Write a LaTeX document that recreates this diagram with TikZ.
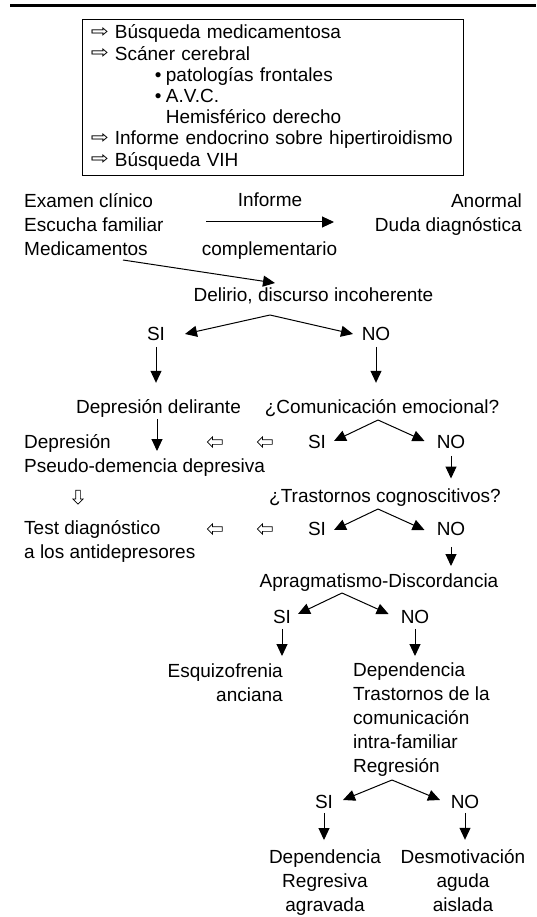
\documentclass[tikz,border=0pt]{standalone}
\usepackage{fontspec}
\setmainfont{Liberation Sans}
\newfontfamily\symfont{DejaVu Sans}
\usetikzlibrary{arrows.meta,shapes.arrows}

\newcommand{\rarr}{\raisebox{1.5pt}{\resizebox{18pt}{10pt}{\symfont ⇨}}}
\newcommand{\bul}{\makebox[11pt][l]{\fontsize{19}{19}\selectfont •}}

\tikzset{
  arr/.style={-{Triangle[length=12pt,width=11pt]}, line width=1pt},
  stem/.style={arr, shorten <=5pt, shorten >=8pt},
  txt/.style={inner sep=0pt, font=\fontsize{19}{24}\selectfont},
  hollow/.style={single arrow, draw, line width=0.7pt, inner sep=2pt,
    minimum height=15pt, single arrow head extend=2.8pt},
  hollowl/.style={hollow, shape border rotate=180},
  hollowd/.style={hollow, shape border rotate=270, minimum height=14pt},
  boxed/.style={draw, line width=0.8pt, anchor=north west, inner xsep=8.5pt,
    inner ysep=5.5pt, text width=364pt, align=left,
    font=\fontsize{19}{21.2}\selectfont}
}

\begin{document}
\begin{tikzpicture}[x=1pt,y=-1pt]
\useasboundingbox (0,0) rectangle (536,917);
%%rule
\draw[line width=3.2pt] (10,5.5) -- (536,5.5);
%%box
\node[boxed] (pruebas) at (82,19) {\makebox[24pt][l]{\rarr}Búsqueda medicamentosa\\
  \makebox[24pt][l]{\rarr}Scáner cerebral\\
  \hspace*{64pt}\bul patologías frontales\\
  \hspace*{64pt}\bul A.V.C.\\
  \hspace*{75pt}Hemisférico derecho\\
  \makebox[24pt][l]{\rarr}Informe endocrino sobre hipertiroidismo\\
  \makebox[24pt][l]{\rarr}Búsqueda VIH};
%%Labels (base = last line)
\node[txt, anchor=base west, align=left] (examen) at (24,255) {Examen clínico\\Escucha familiar\\Medicamentos};
\node[txt, anchor=base] (inf) at (270,207) {Informe};
\node[txt, anchor=base] (compl) at (269.5,255) {complementario};
\node[txt, anchor=base east, align=right] (anormal) at (522,231) {Anormal\\Duda diagnóstica};
\node[txt, anchor=base] (delirio) at (313.5,301) {Delirio, discurso incoherente};
\node[txt] (si1) at (156,334) {SI};
\node[txt] (no1) at (376,334) {NO};
\node[txt, anchor=base] (deplir) at (158.5,413) {Depresión delirante};
\node[txt, anchor=base] (comun) at (382,413) {¿Comunicación emocional?};
\node[txt] (si2) at (317,442) {SI};
\node[txt] (no2) at (451,442) {NO};
\node[txt, anchor=base west, align=left] (depres) at (24,472) {Depresión\\Pseudo-demencia depresiva};
\node[hollowl] (la1) at (216,442) {};
\node[hollowl] (la2) at (266,442) {};
\node[txt, anchor=base] (trast) at (385,502) {¿Trastornos cognoscitivos?};
\node[hollowd] (da1) at (78,496) {};
\node[txt] (si3) at (317,529) {SI};
\node[txt] (no3) at (451,529) {NO};
\node[txt, anchor=base west, align=left] (test) at (24,558) {Test diagnóstico\\a los antidepresores};
\node[hollowl] (lb1) at (216,529) {};
\node[hollowl] (lb2) at (266,529) {};
\node[txt, anchor=base] (aprag) at (379,587) {Apragmatismo-Discordancia};
\node[txt] (si4) at (282,617) {SI};
\node[txt] (no4) at (415,617) {NO};
\node[txt, anchor=base east, align=right] (esquizo) at (283,701) {Esquizofrenia\\anciana};
\node[txt, anchor=base west, align=left] (depend) at (353,772) {Dependencia\\Trastornos de la\\comunicación\\intra-familiar\\Regresión};
\node[txt] (si5) at (324,802) {SI};
\node[txt] (no5) at (465,802) {NO};
\node[txt, anchor=base, align=center] (regres) at (325,911) {Dependencia\\Regresiva\\agravada};
\node[txt, anchor=base, align=center] (desmot) at (463,911) {Desmotivación\\aguda\\aislada};
%%Points
\coordinate (h0) at (206,222);
\coordinate (h1) at (334,222);
\coordinate (s0) at (123,260);
\coordinate (s1) at (275,283);
\coordinate (a1) at (270,315);
\coordinate (a1l) at (185,334);
\coordinate (a1r) at (353,334);
\coordinate (a2) at (378,420);
\coordinate (a2l) at (334,441);
\coordinate (a2r) at (424.5,441);
\coordinate (e1) at (157,451);
\coordinate (a3) at (378,509);
\coordinate (a3l) at (334,530);
\coordinate (a3r) at (424.5,530);
\coordinate (a4) at (342,593);
\coordinate (a4l) at (298,614);
\coordinate (a4r) at (388.6,614);
\coordinate (a5) at (392,780);
\coordinate (a5l) at (343,800);
\coordinate (a5r) at (440,800);
%%Arrows
\draw[arr] (h0) -- (h1);
\draw[arr] (s0) -- (s1);
\draw[arr] (a1) -- (a1l);
\draw[arr] (a1) -- (a1r);
\draw[stem, shorten <=6pt, shorten >=16pt] (si1.south) -- (si1.south |- deplir.north);
\draw[stem, shorten <=6pt, shorten >=16pt] (no1.south) -- (no1.south |- comun.north);
\draw[arr] (a2) -- (a2l);
\draw[arr] (a2) -- (a2r);
\draw[stem, shorten <=2pt, shorten >=0pt] (e1 |- deplir.south) -- (e1);
\draw[stem, shorten <=7pt, shorten >=9.5pt] (no2.south) -- (no2.south |- trast.north);
\draw[arr] (a3) -- (a3l);
\draw[arr] (a3) -- (a3r);
\draw[stem, shorten <=11pt, shorten >=7pt] (no3.south) -- (no3.south |- aprag.north);
\draw[arr] (a4) -- (a4l);
\draw[arr] (a4) -- (a4r);
\draw[stem, shorten >=7pt] (si4.south) -- (si4.south |- esquizo.north);
\draw[stem, shorten >=6pt] (no4.south) -- (no4.south |- depend.north);
\draw[arr] (a5) -- (a5l);
\draw[arr] (a5) -- (a5r);
\draw[stem, shorten <=4pt, shorten >=9pt] (si5.south) -- (si5.south |- regres.north);
\draw[stem, shorten <=4pt, shorten >=9pt] (no5.south) -- (no5.south |- desmot.north);
\end{tikzpicture}
\end{document}
